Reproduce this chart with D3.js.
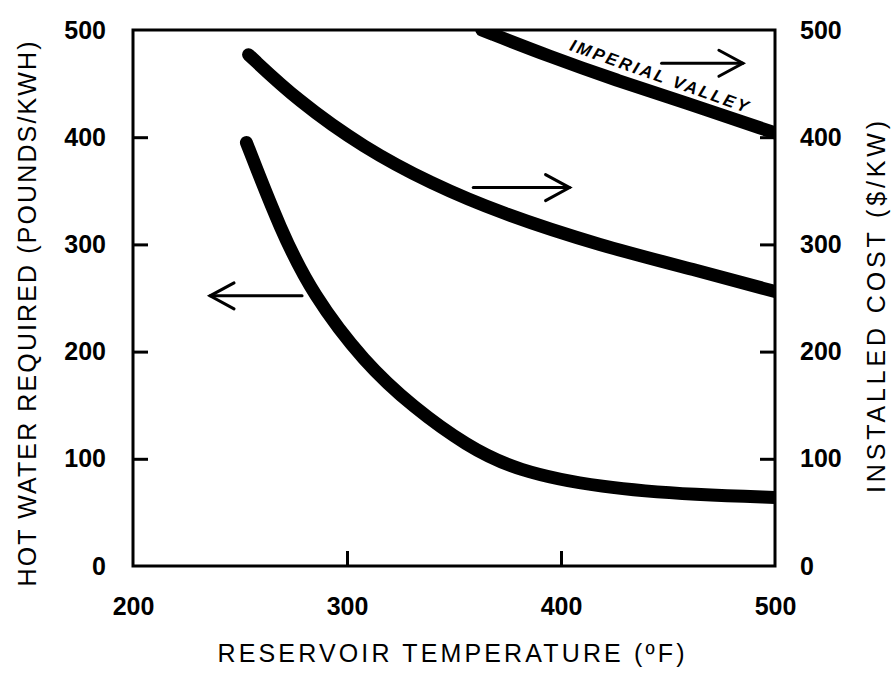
<!DOCTYPE html>
<html>
<head>
<meta charset="utf-8">
<script src="https://cdn.jsdelivr.net/npm/d3@7"></script>
<style>
  html, body { margin: 0; padding: 0; background: #fff; }
  svg { display: block; }
  text { font-family: "Liberation Sans", Arial, Helvetica, sans-serif; fill: #000; }
</style>
</head>
<body>
<svg id="chart" width="896" height="673"></svg>
<script>
// ---- data ----
const xTicks = [200, 300, 400, 500];
const yTicks = [0, 100, 200, 300, 400, 500];

// Hot water required (left axis, pounds/kWh) vs reservoir temperature
const hotWaterTemp  = [253, 269, 284, 308, 331, 356, 379, 418, 465, 500];
const hotWaterValue = [395, 313, 253, 190, 148, 112, 89, 73, 66, 64];

// Installed cost (right axis, $/kW)
const costTemp  = [254, 277, 308, 339, 372, 418, 465, 500];
const costValue = [477, 434, 390, 357, 329, 299, 275, 256];

// Installed cost, Imperial Valley (right axis)
const ivTemp  = [363, 395, 426, 457, 500];
const ivValue = [500, 475, 453, 433, 404];

// annotation arrows (data units): [xFrom, xTo, y]
const arrowLeft  = [279, 236, 252];
const arrowMid   = [359, 404, 353];
const arrowTop   = [447, 485, 469];
const ivLabel    = { text: "IMPERIAL VALLEY", x: 445, y: 452 };

// ---- layout ----
const svg = d3.select("#chart");
const x = d3.scaleLinear().domain([200, 500]).range([133, 775]);
const yL = d3.scaleLinear().domain([0, 500]).range([566, 30]);
const yR = d3.scaleLinear().domain([0, 500]).range([566, 30]);

// clip
svg.append("defs").append("clipPath").attr("id", "plotclip")
  .append("rect")
  .attr("x", x(200)).attr("y", yL(500))
  .attr("width", x(500) - x(200)).attr("height", yL(0) - yL(500));

// frame
svg.append("rect")
  .attr("x", x(200)).attr("y", yL(500))
  .attr("width", x(500) - x(200)).attr("height", yL(0) - yL(500))
  .attr("fill", "none").attr("stroke", "#000").attr("stroke-width", 3);

// axes (ticks inward)
const tickLen = 15;
const leftAxis = d3.axisLeft(yL).tickValues(yTicks).tickSize(-tickLen).tickPadding(tickLen + 12);
const rightAxis = d3.axisRight(yR).tickValues(yTicks).tickSize(-tickLen).tickPadding(tickLen + 10);
const bottomAxis = d3.axisBottom(x).tickValues(xTicks).tickSize(-tickLen).tickPadding(tickLen + 16);

function styleAxis(g) {
  g.select(".domain").remove();
  g.selectAll(".tick line").attr("stroke", "#000").attr("stroke-width", 3);
  g.selectAll(".tick text")
    .style("font-family", '"Liberation Sans", Arial, sans-serif')
    .style("font-size", "25px").style("font-weight", "bold").attr("fill", "#000");
}
const gl = svg.append("g").attr("transform", `translate(${x(200)},0)`).call(leftAxis).call(styleAxis);
const gr = svg.append("g").attr("transform", `translate(${x(500)},0)`).call(rightAxis).call(styleAxis);
const gb = svg.append("g").attr("transform", `translate(0,${yL(0)})`).call(bottomAxis).call(styleAxis);
gl.selectAll(".tick line").filter(d => d === 0 || d === 500).remove();
gr.selectAll(".tick line").filter(d => d === 0 || d === 500).remove();
gb.selectAll(".tick line").filter(d => d === 200 || d === 500).remove();

// axis titles
svg.append("text")
  .attr("transform", `translate(36,${(yL(0) + yL(500)) / 2 + 16}) rotate(-90)`)
  .attr("text-anchor", "middle")
  .style("font-size", "25px")
  .attr("textLength", 545).attr("lengthAdjust", "spacing")
  .text("HOT WATER REQUIRED (POUNDS/KWH)");

svg.append("text")
  .attr("transform", `translate(885,${(yL(0) + yL(500)) / 2 + 9}) rotate(-90)`)
  .attr("text-anchor", "middle")
  .style("font-size", "25px")
  .attr("textLength", 372).attr("lengthAdjust", "spacing")
  .text("INSTALLED COST ($/KW)");

svg.append("text")
  .attr("x", 451).attr("y", 662)
  .attr("text-anchor", "middle")
  .style("font-size", "25px")
  .attr("textLength", 467).attr("lengthAdjust", "spacing")
  .text("RESERVOIR TEMPERATURE (ºF)");

// curves
const plot = svg.append("g").attr("clip-path", "url(#plotclip)");
function drawCurve(xs, ys, scaleY) {
  const pts = xs.map((t, i) => [t, ys[i]]);
  const line = d3.line().x(d => x(d[0])).y(d => scaleY(d[1])).curve(d3.curveBasis);
  plot.append("path").attr("d", line(pts))
    .attr("fill", "none").attr("stroke", "#000")
    .attr("stroke-width", 13).attr("stroke-linecap", "round").attr("stroke-linejoin", "round");
}
drawCurve(hotWaterTemp, hotWaterValue, yL);
drawCurve(costTemp, costValue, yR);
drawCurve(ivTemp, ivValue, yR);

// arrows
function drawArrow(a, scaleY) {
  const x0 = x(a[0]), x1 = x(a[1]), yy = scaleY(a[2]);
  const dir = Math.sign(x1 - x0);
  const g = svg.append("g").attr("stroke", "#000").attr("stroke-width", 3).attr("fill", "none")
    .attr("stroke-linecap", "round");
  g.append("line").attr("x1", x0).attr("y1", yy).attr("x2", x1).attr("y2", yy);
  g.append("path").attr("d",
    `M${x1 - dir * 24},${yy - 13} L${x1},${yy} L${x1 - dir * 24},${yy + 13}`);
}
drawArrow(arrowLeft, yL);
drawArrow(arrowMid, yR);
drawArrow(arrowTop, yR);

// Imperial Valley label
svg.append("text")
  .attr("transform", `translate(${x(ivLabel.x)},${yR(ivLabel.y)}) rotate(19.5)`)
  .attr("text-anchor", "middle")
  .style("font-size", "17px").style("font-weight", "bold").style("font-style", "italic")
  .attr("textLength", 188).attr("lengthAdjust", "spacing")
  .text(ivLabel.text);
</script>
</body>
</html>
